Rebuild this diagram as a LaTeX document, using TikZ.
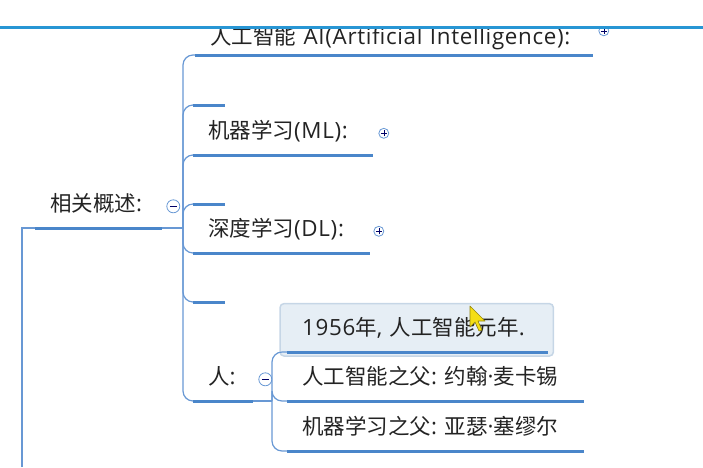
\documentclass[tikz,border=0pt]{standalone}
\usepackage{fontspec}
\setmainfont[Scale=1.04, LetterSpace=3]{Open Sans}
\newfontfamily\cjk{Noto Sans CJK SC}
\usepackage{tikz}
\usetikzlibrary{positioning, backgrounds}
\usepackage{xcolor}
\definecolor{ulblue}{RGB}{74,134,202}
\definecolor{lnblue}{RGB}{104,152,212}
\definecolor{barblue}{RGB}{40,150,212}
\definecolor{txtgray}{RGB}{35,35,35}
\definecolor{boxfill}{RGB}{230,238,245}
\definecolor{boxline}{RGB}{198,214,230}
\definecolor{curyel}{RGB}{245,222,20}

\tikzset{
    topic/.style={anchor=south west, inner xsep=15pt, inner ysep=10pt, text height=17pt, text depth=6pt,
        align=left, text=txtgray, font=\fontsize{21.5}{25}\selectfont},
    uline/.style={ulblue, line width=3pt},
    conn/.style={lnblue, line width=1.2pt, rounded corners=10pt},
    fold/.style={circle, draw=lnblue, line width=0.8pt, minimum size=10pt, inner sep=0pt},
    foldplus/.style={fold, path picture={
        \draw[black!60!blue, line width=0.6pt] ([xshift=-3pt]path picture bounding box.center) -- ([xshift=3pt]path picture bounding box.center)
            ([yshift=-3pt]path picture bounding box.center) -- ([yshift=3pt]path picture bounding box.center);}},
    foldminus/.style={fold, minimum size=13pt, path picture={
        \draw[black!60!blue, line width=0.6pt] ([xshift=-3.5pt]path picture bounding box.center) -- ([xshift=3.5pt]path picture bounding box.center);}},
}

\begin{document}
\begin{tikzpicture}[x=1pt, y=-1pt]
    \useasboundingbox (0,0) rectangle (703,467);

    % 节点
    \node[topic, inner ysep=4pt, text width=368pt] (ai) at (195,55) {{\cjk 人工智能}~AI(Artificial~Intelligence):};
    \node[topic, text width=2pt] (s1) at (193,105) {};
    \node[topic, text width=150pt] (ml) at (193,155) {{\cjk 机器学习}(ML):};
    \node[topic, text width=97pt] (gai) at (35,228) {{\cjk 相关概述}:};
    \node[topic, text width=2pt] (s2) at (193,204) {};
    \node[topic, text width=147pt] (dl) at (193,253) {{\cjk 深度学习}(DL):};
    \node[topic, text width=2pt] (s3) at (193,302) {};
    \node[topic, text width=30pt] (ren) at (193,401) {{\cjk 人}:};

    \node[topic, text width=231pt] (yuan) at (287,352) {1956{\cjk 年},~{\cjk 人工智能元年}.};
    \node[topic, text width=267pt] (fu1) at (287,401) {{\cjk 人工智能之父}:~{\cjk 约翰}·{\cjk 麦卡锡}};
    \node[topic, text width=267pt] (fu2) at (287,451) {{\cjk 机器学习之父}:~{\cjk 亚瑟}·{\cjk 塞缪尔}};

    % 高亮框
    \begin{scope}[on background layer]
        \draw[boxline, fill=boxfill, line width=1.5pt, rounded corners=4pt]
            ([shift={(-7pt,5pt)}]yuan.north west) rectangle ([shift={(5pt,-4pt)}]yuan.south east);
    \end{scope}

    % 连线
    \coordinate (root) at (22,467);
    \coordinate (hub) at (183,228);
    \coordinate (hub2) at (272,401);
    \draw[conn, rounded corners=0pt] (root) |- (gai.south west);
    \draw[conn] (gai.south east) -- (hub);
    \foreach \c in {ai, s1, ml, s2, dl, s3, ren}
        \draw[conn] (hub) |- (\c.south west);
    \draw[conn] (ren.south east) -- (hub2);
    \foreach \c in {yuan, fu1, fu2}
        \draw[conn] (hub2) |- (\c.south west);

    % 下划线
    \foreach \c in {ai, s1, ml, gai, s2, dl, s3, ren, yuan, fu1, fu2}
        \draw[uline] (\c.south west) -- (\c.south east);

    % 折叠按钮
    \node[foldplus, right=5pt of ai, yshift=8.5pt] (aib) {};
    \node[foldplus, right=5pt of ml] (mlb) {};
    \node[foldplus, right=3pt of dl] (dlb) {};
    \node[foldminus, right=4pt of gai] (gaib) {};
    \node[foldminus, right=5pt of ren] (renb) {};

    % 顶部
    \fill[white] (0,0) rectangle (703,26);
    \draw[barblue, line width=3pt] (0,27.5) -- (703,27.5);

    % 光标
    \draw[curyel!60!black, fill=curyel, line width=0.6pt, line join=round]
        (470,306) -- (470,327) -- (475,322) -- (479,331) -- (482,330) -- (478,321) -- (485,321) -- cycle;
\end{tikzpicture}
\end{document}
